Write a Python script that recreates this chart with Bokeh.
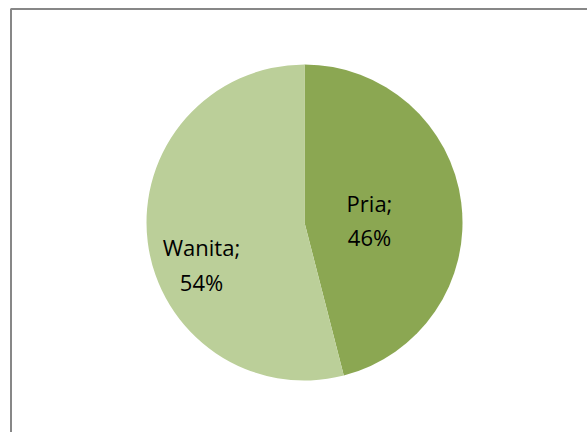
import math
from bokeh.plotting import figure
from bokeh.models import Range1d, ColumnDataSource
from bokeh.core.properties import value
from bokeh.embed import file_html
from bokeh.resources import INLINE

categories = ["Pria", "Wanita"]
shares = [46, 54]
colors = ["#8BA752", "#BBCF99"]

W, H = 587, 432
p = figure(width=W, height=H, output_backend="svg", toolbar_location=None,
           x_range=Range1d(0, W), y_range=Range1d(0, H), min_border=0,
           background_fill_color="white", border_fill_color="white")
p.axis.visible = False
p.grid.visible = False
p.outline_line_color = None

# chart border
p.quad(left=[10.5], right=[W + 10], top=[H - 8.5], bottom=[-10],
       fill_color=None, line_color="#878787", line_width=2)

cx, cy, r = 304, H - 222, 158
total = sum(shares)
starts, ends = [], []
a = math.pi / 2
for s in shares:
    starts.append(a)
    a -= 2 * math.pi * s / total
    ends.append(a)

src = ColumnDataSource(dict(cat=categories, share=shares, color=colors,
                            start=starts, end=ends))
p.wedge(x=cx, y=cy, radius=r, start_angle="start", end_angle="end",
        direction="clock", fill_color="color", line_color=None, source=src)

# labels (baseline positions)
label_pos = [(369, 202, 236), (201, 246, 281)]
for (cat, s), (lx, y1, y2) in zip(zip(categories, shares), label_pos):
    p.text(x=[lx], y=[H - y1], text=[f"{cat};"], text_align="center",
           text_baseline="alphabetic", text_font=value("Open Sans"),
           text_font_size="22px", text_color="#000000")
    p.text(x=[lx], y=[H - y2], text=[f"{s}%"], text_align="center",
           text_baseline="alphabetic", text_font=value("Open Sans"),
           text_font_size="22px", text_color="#000000")

open("out.html", "w").write(file_html(p, INLINE))
